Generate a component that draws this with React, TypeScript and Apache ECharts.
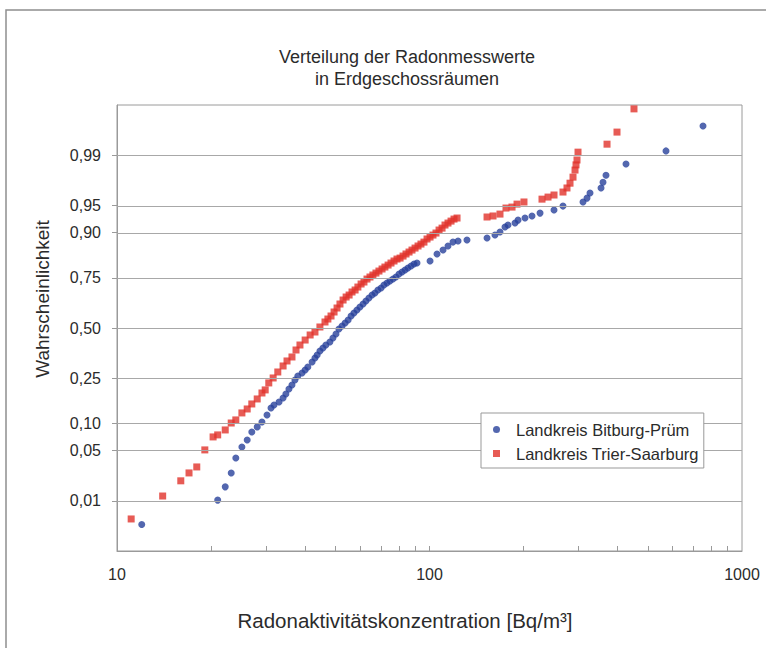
import React, { useEffect, useRef } from "react";
import * as echarts from "echarts";

// Landkreis Bitburg-Prüm: concentration [Bq/m³] and cumulative probability
const bitburgConc = [
  12.0, 21.0, 22.2, 23.2, 24.0, 25.1, 26.1, 27.0, 28.1, 29.1,
  30.2, 31.1, 31.8, 33.0, 34.0, 34.7, 35.5, 36.3, 37.1, 37.9,
  39.1, 40.0, 40.8, 42.1, 43.0, 43.7, 44.6, 45.6, 46.6, 48.0,
  49.1, 50.2, 51.3, 52.5, 53.7, 54.9, 56.1, 57.3, 58.6, 59.9,
  61.3, 62.6, 64.0, 65.5, 66.9, 68.4, 70.0, 71.5, 73.1, 74.7,
  76.4, 78.1, 79.9, 81.7, 83.5, 85.3, 87.3, 89.2, 91.2, 100.4,
  105.7, 110.5, 114.6, 118.9, 123.4, 131.8, 152.8, 162.0, 168.1, 174.4,
  178.3, 187.8, 192.0, 202.1, 212.8, 225.8, 250.3, 267.4, 309.9, 319.2,
  326.3, 353.9, 359.1, 367.1, 425.4, 571.2, 750.3,
];
const bitburgProb = [
  0.0041, 0.0103, 0.0163, 0.0256, 0.0402, 0.0546, 0.066, 0.0808, 0.0917, 0.1032,
  0.1211, 0.141, 0.1504, 0.1597, 0.1734, 0.1874, 0.2061, 0.2218, 0.242, 0.2594,
  0.2724, 0.2863, 0.2999, 0.3237, 0.3432, 0.3585, 0.3783, 0.3941, 0.4095, 0.4254,
  0.4464, 0.4678, 0.4946, 0.5107, 0.5268, 0.5429, 0.5641, 0.58, 0.5956, 0.6112,
  0.6265, 0.6417, 0.6568, 0.6713, 0.6811, 0.6954, 0.7046, 0.7184, 0.7275, 0.7362,
  0.7449, 0.7536, 0.7661, 0.7742, 0.7823, 0.7902, 0.7977, 0.8052, 0.8089, 0.8163,
  0.8403, 0.8528, 0.865, 0.8761, 0.8789, 0.8817, 0.887, 0.8944, 0.9018, 0.9127,
  0.917, 0.921, 0.9267, 0.9305, 0.9341, 0.9389, 0.9438, 0.9495, 0.955, 0.9597,
  0.9653, 0.9702, 0.9751, 0.9801, 0.9863, 0.9914, 0.9967,
];

// Landkreis Trier-Saarburg
const trierConc = [
  11.1, 14.0, 16.0, 17.0, 18.0, 19.1, 20.3, 21.0, 22.2, 23.2,
  24.0, 25.1, 26.1, 27.0, 28.1, 29.1, 29.8, 30.6, 31.6, 32.7,
  34.0, 35.0, 36.3, 37.4, 38.5, 40.0, 41.5, 43.0, 44.6, 46.3,
  47.3, 48.4, 49.5, 50.6, 51.7, 52.9, 54.1, 55.3, 56.5, 57.8,
  59.0, 60.4, 61.7, 63.1, 64.5, 65.9, 67.4, 68.9, 70.5, 72.0,
  73.7, 75.3, 77.0, 78.7, 80.5, 82.3, 84.1, 86.0, 87.9, 89.9,
  91.9, 93.9, 96.0, 98.2, 100.4, 102.6, 104.9, 107.3, 109.7, 112.1,
  114.6, 117.2, 119.8, 122.5, 152.8, 159.7, 168.1, 175.7, 183.7, 190.6,
  200.6, 229.1, 239.5, 250.3, 267.4, 275.4, 281.6, 287.9, 292.2, 294.3,
  296.5, 298.7, 369.9, 398.1, 451.2,
];
const trierProb = [
  0.0051, 0.0119, 0.0199, 0.0256, 0.0308, 0.0505, 0.0714, 0.0752, 0.0851, 0.1006,
  0.1081, 0.1266, 0.138, 0.1534, 0.1699, 0.191, 0.2024, 0.23, 0.2507, 0.277,
  0.3047, 0.3287, 0.3483, 0.3836, 0.4095, 0.4357, 0.4626, 0.4785, 0.5054, 0.5322,
  0.5481, 0.5641, 0.5852, 0.606, 0.6265, 0.6467, 0.6616, 0.6713, 0.6859, 0.6954,
  0.7092, 0.723, 0.7319, 0.7449, 0.7536, 0.762, 0.7701, 0.7782, 0.7863, 0.7939,
  0.8014, 0.8089, 0.8163, 0.8232, 0.8266, 0.8334, 0.8403, 0.8466, 0.8528, 0.8589,
  0.865, 0.8706, 0.8761, 0.8844, 0.8894, 0.8944, 0.8993, 0.9062, 0.9105, 0.917,
  0.921, 0.9248, 0.9286, 0.9305, 0.9323, 0.9341, 0.9373, 0.9467, 0.9481, 0.9522,
  0.955, 0.9585, 0.9609, 0.9632, 0.9663, 0.9702, 0.9743, 0.9788, 0.9832, 0.9859,
  0.9881, 0.991, 0.9933, 0.9958, 0.9984,
];

const probTicks = [0.01, 0.05, 0.1, 0.25, 0.5, 0.75, 0.9, 0.95, 0.99];
const probTickLabels = ["0,01", "0,05", "0,10", "0,25", "0,50", "0,75", "0,90", "0,95", "0,99"];
const xMinorTicks = [20, 30, 40, 50, 60, 70, 80, 90, 100, 200, 300, 400, 500, 600, 700, 800, 900];

const seriesNames = ["Landkreis Bitburg-Prüm", "Landkreis Trier-Saarburg"];

// inverse standard normal CDF (probability-paper scale)
function probit(p: number): number {
  const a = [-3.969683028665376e1, 2.209460984245205e2, -2.759285104469687e2, 1.38357751867269e2, -3.066479806614716e1, 2.506628277459239];
  const b = [-5.447609879822406e1, 1.615858368580409e2, -1.556989798598866e2, 6.680131188771972e1, -1.328068155288572e1];
  const c = [-7.784894002430293e-3, -3.223964580411365e-1, -2.400758277161838, -2.549732539343734, 4.374664141464968, 2.938163982698783];
  const d = [7.784695709041462e-3, 3.224671290700398e-1, 2.445134137142996, 3.754408661907416];
  const pl = 0.02425;
  const ph = 1 - pl;
  let q: number, r: number;
  if (p < pl) {
    q = Math.sqrt(-2 * Math.log(p));
    return (((((c[0] * q + c[1]) * q + c[2]) * q + c[3]) * q + c[4]) * q + c[5]) / ((((d[0] * q + d[1]) * q + d[2]) * q + d[3]) * q + 1);
  }
  if (p <= ph) {
    q = p - 0.5;
    r = q * q;
    return ((((((a[0] * r + a[1]) * r + a[2]) * r + a[3]) * r + a[4]) * r + a[5]) * q) / (((((b[0] * r + b[1]) * r + b[2]) * r + b[3]) * r + b[4]) * r + 1);
  }
  q = Math.sqrt(-2 * Math.log(1 - p));
  return -(((((c[0] * q + c[1]) * q + c[2]) * q + c[3]) * q + c[4]) * q + c[5]) / ((((d[0] * q + d[1]) * q + d[2]) * q + d[3]) * q + 1);
}

// legend icons: 7px marker followed by empty space (invisible anchor point at x=18)
const legendCircleIcon = "path://M0,3.5A3.5,3.5,0,1,1,7,3.5A3.5,3.5,0,1,1,0,3.5ZM18,0L18,0M18,7L18,7";
const legendRectIcon = "path://M0,0L7,0L7,7L0,7ZM18,0L18,0M18,7L18,7";

export default function App() {
  const ref = useRef<HTMLDivElement>(null);
  useEffect(() => {
    if (!ref.current) return;
    const chart = echarts.init(ref.current, null, { renderer: "svg" });
    const zTicks = probTicks.map(probit);
    const font = "'Liberation Sans', Arial, sans-serif";
    const textColor = "#2b2b2b";
    const axisColor = "#9a9a9a";
    const yMin = -3;
    const yMax = 3;
    const tickLen = ((yMax - yMin) / 446) * 5;
    const gridLines = zTicks.map((z) => ({ yAxis: z }));
    const minorTickSegs = xMinorTicks.map((x) => [
      { coord: [x, yMin], lineStyle: { color: axisColor, width: 1 } },
      { coord: [x, yMin + tickLen] },
    ]);
    chart.setOption({
      animation: false,
      backgroundColor: "#fff",
      textStyle: { fontFamily: font, color: textColor },
      graphic: [
        {
          type: "rect",
          shape: { x: 6, y: 10, width: 900, height: 900 },
          style: { fill: "none", stroke: "#8f8f8f", lineWidth: 1.5 },
          silent: true,
          z: -10,
        },
        {
          type: "text",
          x: 407,
          y: 57,
          style: { text: "Verteilung der Radonmesswerte", font: `18px ${font}`, fill: textColor, textAlign: "center", textVerticalAlign: "middle" },
        },
        {
          type: "text",
          x: 407,
          y: 79,
          style: { text: "in Erdgeschossräumen", font: `18px ${font}`, fill: textColor, textAlign: "center", textVerticalAlign: "middle" },
        },
        {
          type: "text",
          x: 405,
          y: 620,
          style: { text: "Radonaktivitätskonzentration [Bq/m³]", font: `20.5px ${font}`, fill: textColor, textAlign: "center", textVerticalAlign: "middle" },
        },
        {
          type: "text",
          x: 42,
          y: 299,
          rotation: Math.PI / 2,
          style: { text: "Wahrscheinlichkeit", font: `19px ${font}`, fill: textColor, textAlign: "center", textVerticalAlign: "middle" },
        },
      ],
      grid: {
        left: 117,
        top: 105,
        width: 625,
        height: 446,
        show: true,
        borderColor: axisColor,
        borderWidth: 1,
        backgroundColor: "transparent",
      },
      legend: {
        data: [
          { name: seriesNames[0], icon: legendCircleIcon },
          { name: seriesNames[1], icon: legendRectIcon },
        ],
        orient: "vertical",
        left: 481,
        top: 413,
        backgroundColor: "#fff",
        borderColor: "#999",
        borderWidth: 1,
        padding: [8, 5, 6, 12],
        itemGap: 7,
        itemWidth: 18,
        itemHeight: 7,
        textStyle: { fontSize: 16.5, color: textColor, fontFamily: font },
        selectedMode: false,
        z: 10,
      },
      xAxis: {
        type: "log",
        logBase: 10,
        min: 10,
        max: 1000,
        axisLine: { onZero: false, lineStyle: { color: axisColor } },
        axisTick: { show: false },
        axisLabel: { fontSize: 16, color: textColor, margin: 15, fontFamily: font, formatter: (v: number) => String(Math.round(v)) },
        splitLine: { show: false },
        minorTick: { show: false },
      },
      yAxis: {
        type: "value",
        min: yMin,
        max: yMax,
        axisLine: { show: true, lineStyle: { color: axisColor } },
        axisTick: { show: true, length: 5, customValues: zTicks, lineStyle: { color: axisColor } },
        axisLabel: {
          customValues: zTicks,
          fontSize: 16,
          color: textColor,
          margin: 16,
          fontFamily: font,
          formatter: (v: number) => {
            let best = 0;
            zTicks.forEach((z, i) => {
              if (Math.abs(z - v) < Math.abs(zTicks[best] - v)) best = i;
            });
            return probTickLabels[best];
          },
        },
        splitLine: { show: false },
      },
      series: [
        {
          type: "line",
          name: "grid",
          data: [],
          z: 1,
          silent: true,
          markLine: {
            silent: true,
            symbol: "none",
            label: { show: false },
            lineStyle: { color: "#a8a8a8", type: "solid", width: 1 },
            data: [...gridLines, ...minorTickSegs],
          },
        },
        {
          type: "scatter",
          name: seriesNames[0],
          symbol: "circle",
          symbolSize: 7,
          itemStyle: { color: "#28419b" },
          z: 3,
          data: bitburgConc.map((x, i) => [x, probit(bitburgProb[i])]),
        },
        {
          type: "scatter",
          name: seriesNames[1],
          symbol: "rect",
          symbolSize: 7,
          itemStyle: { color: "#e1322b" },
          z: 4,
          data: trierConc.map((x, i) => [x, probit(trierProb[i])]),
        },
      ],
    });
    return () => chart.dispose();
  }, []);
  return <div ref={ref} style={{ position: "absolute", left: 0, top: 0, width: 766, height: 648 }} />;
}
